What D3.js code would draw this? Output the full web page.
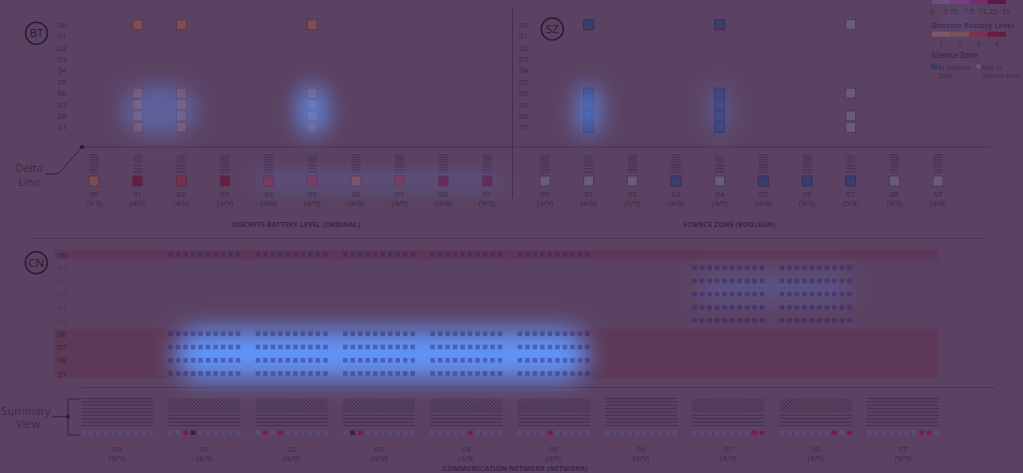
<!DOCTYPE html>
<html>
<head>
<meta charset="utf-8">
<script src="https://cdn.jsdelivr.net/npm/d3@7"></script>
<style>
body { margin: 0; background: #5b4262; overflow: hidden; }
svg { display: block; font-family: 'Open Sans', sans-serif; }
</style>
</head>
<body>
<svg></svg>
<script>
// Data
const bins = ['00','01','02','03','04','05','06','07','08','ST']

// battery level panel (BT)
const btFraction = ['9/9','4/9','4/9','9/9','9/9','4/9','9/9','9/9','9/9','9/9']
const btLevel = [2, 4, 3, 4, 3, 3, 2, 3, 4, 4]
const btChanged = ['01','02','05']
const btGridCols = ['01','02','05']
const btGridRows = ['00','06','07','08','ST']

// science zone panel (SZ)
const szFraction = ['9/9','4/9','9/9','9/9','9/9','4/9','9/9','5/9','9/9','9/9']
const szInZone = [false, false, false, true, false, true, true, true, false, false]
const szChanged = ['01','04','07']
const szGridCols = [
    {col: '01', rows: ['00','06','07','08','ST'], inZone: true},
    {col: '04', rows: ['00','06','07','08','ST'], inZone: true},
    {col: '07', rows: ['00','06','08','ST'], inZone: false}
]

// communication network panel (CN)
const cnFraction = ['9/9','4/9','4/9','4/9','4/9','4/9','9/9','4/9','4/9','9/9']
const cnChanged = ['01','02','03','04','05','07','08']
const cnEarlyCols = ['01','02','03','04','05']
const cnEarlyRows = ['00','06','07','08','ST']
const cnLateCols = ['07','08']
const cnLateRows = ['01','02','03','04','05']
const cnBands = [['00','00'], ['06','ST']]
const cnHigh = [[], [2], [1,3], [2], [5], [4], [], [8,9], [7,9], [7,8]]
const cnLow = [[], [3], [], [1], [], [], [], [], [], []]

// legends
const batteryTicks = [0, 3.75, 7.5, 11.25, 15]
const discreteLevels = [1, 2, 3, 4]

// highlighted regions (col range, row range, strength)
const btGlow = [
    {cols: ['01','02'], rows: ['06','ST'], a: 0.38},
    {cols: ['05','05'], rows: ['06','ST'], a: 0.7}
]
const szGlow = [
    {cols: ['01','01'], rows: ['06','ST'], a: 0.6},
    {cols: ['04','04'], rows: ['06','ST'], a: 0.22}
]
const deltaGlow = {cols: ['04','ST'], a: 0.35}
const cnGlow = [
    {cols: ['01','05'], rows: ['06','ST'], a: 1},
    {cols: ['07','08'], rows: ['02','03'], a: 0.28}
]

// Setup
const width = 1023
const height = 473
const textInk = '#3a2a45'
const svg = d3.select('svg').attr('width', width).attr('height', height)

svg.append('rect').attr('width', width).attr('height', height).attr('fill', '#5b4262')

const defs = svg.append('defs')
const hatch = defs.append('pattern')
    .attr('id', 'hatch')
    .attr('width', 2.6).attr('height', 2.6)
    .attr('patternUnits', 'userSpaceOnUse')
    .attr('patternTransform', 'rotate(45)')
hatch.append('line')
    .attr('x1', 0).attr('y1', 0).attr('x2', 0).attr('y2', 2.6)
    .attr('stroke', '#37263f').attr('stroke-width', 1.2)
const addBlur = (id, sd)=> defs.append('filter').attr('id', id)
    .attr('x', '-150%').attr('y', '-150%').attr('width', '400%').attr('height', '400%')
    .append('feGaussianBlur').attr('stdDeviation', sd)
addBlur('blur', 10)
addBlur('blurWide', 12)

const levelColor = d3.scaleOrdinal().domain(discreteLevels)
    .range(['#7a5868', '#7e4c56', '#7c3050', '#661d43'])
const batteryX = d3.scaleLinear().domain([0, 15]).range([932, 1006])
const batterySwatch = ['#6e5080', '#7a3c8a', '#7c2a6e', '#5c1a48']

const btX = d3.scalePoint().domain(bins).range([94, 487])
const szX = d3.scalePoint().domain(bins).range([545, 938])
const gridY = d3.scalePoint().domain(bins).range([24.7, 127.3])
const cnX = d3.scalePoint().domain(bins).range([117, 903])
const cnY = d3.scalePoint().domain(bins).range([254.5, 373.5])
const slot = d3.scaleBand().domain(d3.range(10)).range([-36, 36]).paddingInner(0.4).paddingOuter(0)

// helpers
const circleBadge = (cx, cy, label)=>{
    svg.append('circle').attr('cx', cx).attr('cy', cy).attr('r', 11)
        .attr('fill', 'none').attr('stroke', '#2a1b31').attr('stroke-width', 1.5)
    svg.append('text').attr('x', cx).attr('y', cy + 4).attr('text-anchor', 'middle')
        .attr('font-size', 11.5).attr('fill', '#2a1b31').text(label)
}

const rowAxis = (scale, x, colorFn)=>{
    const g = svg.append('g')
        .attr('transform', `translate(${x},0)`)
        .call(d3.axisLeft(scale).tickSize(0).tickPadding(0))
    g.select('.domain').remove()
    g.selectAll('text').attr('font-size', 7.8).attr('font-family', 'Open Sans')
        .attr('fill', colorFn || textInk)
}

const glyph = (g, cx, y0, y1, w, changed, nLines, nSplit)=>{
    const lines = []
    let top = y0
    if (changed) {
        const hEnd = y0 + (y1 - y0) * 0.52
        g.append('rect').attr('x', cx - w / 2).attr('y', y0).attr('width', w).attr('height', hEnd - y0)
            .attr('fill', 'url(#hatch)')
        top = hEnd + (y1 - y0) * 0.1
        nLines = nSplit
    }
    for (let i = 0; i < nLines; i++) lines.push(top + (y1 - top) * i / (nLines - 1))
    g.selectAll(null).data(lines).enter().append('line')
        .attr('x1', cx - w / 2).attr('x2', cx + w / 2)
        .attr('y1', d => d).attr('y2', d => d)
        .attr('stroke', '#3e2b48').attr('stroke-width', 0.75)
}

const colLabels = (xScale, fractions, y)=>{
    const g = svg.append('g')
    g.selectAll(null).data(bins).enter().append('text')
        .attr('x', d => xScale(d)).attr('y', y)
        .attr('text-anchor', 'middle').attr('font-size', 7.8).attr('fill', textInk)
        .text(d => d)
    g.selectAll(null).data(bins).enter().append('text')
        .attr('x', d => xScale(d)).attr('y', y + 9.3)
        .attr('text-anchor', 'middle').attr('font-size', 7.8).attr('fill', textInk)
        .text((d, i) => `(${fractions[i]})`)
}

const axisTitle = (x, y, label, len)=>{
    svg.append('text').attr('x', x).attr('y', y).attr('text-anchor', 'middle')
        .attr('font-size', 7).attr('font-weight', 'bold').attr('fill', '#382745')
        .attr('textLength', len).attr('lengthAdjust', 'spacing')
        .text(label)
}

const glowRect = (layer, x0, x1, y0, y1, a, filter)=>{
    layer.append('rect')
        .attr('x', x0).attr('y', y0).attr('width', x1 - x0).attr('height', y1 - y0)
        .attr('rx', Math.min(x1 - x0, y1 - y0) / 2)
        .attr('fill', '#6094f8').attr('opacity', a)
        .attr('filter', `url(#${filter || 'blur'})`)
}

// separators
const rule = (x1, y1, x2, y2, c, w)=> svg.append('line')
    .attr('x1', x1).attr('y1', y1).attr('x2', x2).attr('y2', y2)
    .attr('stroke', c).attr('stroke-width', w)

rule(82, 147, 990, 147, '#46304f', 1.2)
rule(512.5, 8, 512.5, 198, '#46304f', 1)
rule(34, 238.5, 987, 238.5, '#4b3555', 1)
rule(82, 387.5, 995, 387.5, '#4b3555', 1)

// BT panel
circleBadge(36.5, 33.3, 'BT')
rowAxis(gridY, 66.5)

svg.append('g').selectAll('rect')
    .data(d3.cross(btGridCols, btGridRows))
    .enter().append('rect')
    .attr('x', d => btX(d[0]) - 5).attr('y', d => gridY(d[1]) - 5)
    .attr('width', 10).attr('height', 10)
    .attr('fill', levelColor(2)).attr('stroke', '#5c3548').attr('stroke-width', 1)

const btGlyphs = svg.append('g')
bins.forEach(b => glyph(btGlyphs, btX(b), 155, 172, 9, btChanged.includes(b), 8, 3))

svg.append('g').selectAll('rect')
    .data(bins).enter().append('rect')
    .attr('x', d => btX(d) - 5).attr('y', 176)
    .attr('width', 10).attr('height', 10)
    .attr('fill', (d, i) => levelColor(btLevel[i]))
    .attr('stroke', '#54324a').attr('stroke-width', 1)

colLabels(btX, btFraction, 196.5)
axisTitle(296, 226.5, 'DISCRETE BATTERY LEVEL (ORDINAL)', 128)

// delta line annotation
svg.append('path').attr('d', 'M82,147 L58,174 L45,174')
    .attr('fill', 'none').attr('stroke', '#2e2036').attr('stroke-width', 0.9)
svg.append('circle').attr('cx', 82).attr('cy', 147).attr('r', 2).attr('fill', '#2a1b31')
svg.append('text').attr('x', 29).attr('y', 172).attr('text-anchor', 'middle')
    .attr('font-size', 11).attr('fill', '#3c2c47').text('Delta')
svg.append('text').attr('x', 29).attr('y', 186).attr('text-anchor', 'middle')
    .attr('font-size', 11).attr('fill', '#3c2c47').text('Line')

// SZ panel
circleBadge(552.3, 29, 'SZ')
rowAxis(gridY, 528)

const inZoneFill = '#3c3c6e'
const outZoneFill = '#6a5a7e'
const szCells = szGridCols.flatMap(c => c.rows.map(r => ({col: c.col, row: r, inZone: c.inZone})))
svg.append('g').selectAll('rect')
    .data(szCells).enter().append('rect')
    .attr('x', d => szX(d.col) - 5).attr('y', d => gridY(d.row) - 5)
    .attr('width', 10).attr('height', 10)
    .attr('fill', d => d.inZone ? inZoneFill : outZoneFill)
    .attr('stroke', d => d.inZone ? '#33305a' : '#4a3a58').attr('stroke-width', 1)

const szGlyphs = svg.append('g')
bins.forEach(b => glyph(szGlyphs, szX(b), 155, 172, 9, szChanged.includes(b), 8, 3))

svg.append('g').selectAll('rect')
    .data(bins).enter().append('rect')
    .attr('x', d => szX(d) - 5).attr('y', 176)
    .attr('width', 10).attr('height', 10)
    .attr('fill', (d, i) => szInZone[i] ? inZoneFill : outZoneFill)
    .attr('stroke', (d, i) => szInZone[i] ? '#33305a' : '#4a3a58').attr('stroke-width', 1)

colLabels(szX, szFraction, 196.5)
axisTitle(729, 226.5, 'SCIENCE ZONE (BOOLEAN)', 92)

// legend
const lg = svg.append('g')
const tickStep = batteryTicks[1] - batteryTicks[0]
lg.selectAll('rect.cont')
    .data(batteryTicks.slice(0, -1)).enter().append('rect')
    .attr('x', d => batteryX(d)).attr('y', -2)
    .attr('width', d => batteryX(d + tickStep) - batteryX(d)).attr('height', 6)
    .attr('fill', (d, i) => batterySwatch[i])
lg.selectAll('text.cont')
    .data(batteryTicks).enter().append('text')
    .attr('x', d => batteryX(d)).attr('y', 13.5)
    .attr('text-anchor', 'middle').attr('font-size', 7.5).attr('fill', textInk)
    .text(d => d)
lg.append('text').attr('x', 931).attr('y', 28).attr('font-size', 7.8).attr('font-weight', 'bold')
    .attr('textLength', 83).attr('lengthAdjust', 'spacingAndGlyphs')
    .attr('fill', '#3f2d50').text('Discrete Battery Level')
const discreteX = d3.scaleBand().domain(discreteLevels).range([932, 1006])
lg.selectAll('rect.disc')
    .data(discreteLevels).enter().append('rect')
    .attr('x', d => discreteX(d)).attr('y', 31.7)
    .attr('width', discreteX.bandwidth()).attr('height', 5)
    .attr('fill', d => levelColor(d))
lg.selectAll('text.disc')
    .data(discreteLevels).enter().append('text')
    .attr('x', d => discreteX(d) + discreteX.bandwidth() / 2).attr('y', 46)
    .attr('text-anchor', 'middle').attr('font-size', 7.5).attr('fill', textInk)
    .text(d => d)
lg.append('text').attr('x', 931).attr('y', 58).attr('font-size', 8.5).attr('font-weight', 'bold')
    .attr('textLength', 47).attr('lengthAdjust', 'spacingAndGlyphs')
    .attr('fill', '#3f2d50').text('Science Zone')
lg.append('rect').attr('x', 931.5).attr('y', 64).attr('width', 5).attr('height', 5)
    .attr('fill', inZoneFill).attr('stroke', '#33305a').attr('stroke-width', 0.6)
lg.append('rect').attr('x', 976).attr('y', 64).attr('width', 5).attr('height', 5)
    .attr('fill', outZoneFill).attr('stroke', '#4a3a58').attr('stroke-width', 0.6)
const legendText = [['In Science', 938, 69.5, 32], ['Zone', 938, 77.5, 15],
    ['Not In', 982, 69.5, 20], ['Science Zone', 982, 77.5, 38]]
lg.selectAll('text.sz')
    .data(legendText).enter().append('text')
    .attr('x', d => d[1]).attr('y', d => d[2])
    .attr('font-size', 6.4).attr('fill', textInk)
    .attr('textLength', d => d[3]).attr('lengthAdjust', 'spacingAndGlyphs')
    .text(d => d[0])

// CN panel
circleBadge(36.3, 262.7, 'CN')
svg.append('g').selectAll('rect')
    .data(cnBands).enter().append('rect')
    .attr('x', 55).attr('width', 938 - 55)
    .attr('y', d => cnY(d[0]) - 4.8)
    .attr('height', d => cnY(d[1]) - cnY(d[0]) + 9.6)
    .attr('fill', '#5e3957')
rowAxis(cnY, 66.5, d => cnEarlyRows.includes(d) ? '#2f2137' : '#4a3855')

// glow under the network cells, cells drawn translucent over it
const cnGlowLayer = svg.append('g')
cnGlow.forEach(h => glowRect(cnGlowLayer, cnX(h.cols[0]) - 30, cnX(h.cols[1]) + 34,
    cnY(h.rows[0]) - 4, cnY(h.rows[1]) + 6, h.a, 'blurWide'))

const cnCells = d3.cross(cnEarlyCols, cnEarlyRows).concat(d3.cross(cnLateCols, cnLateRows))
svg.append('g').selectAll('rect')
    .data(cnCells.flatMap(c => d3.range(10).map(k => [c[0], c[1], k])))
    .enter().append('rect')
    .attr('x', d => cnX(d[0]) + slot(d[2])).attr('y', d => cnY(d[1]) - 2.25)
    .attr('width', slot.bandwidth()).attr('height', slot.bandwidth())
    .attr('fill', '#2a2070').attr('opacity', 0.42)

// summary view
const sumGlyphs = svg.append('g')
bins.forEach(b => glyph(sumGlyphs, cnX(b), 398.5, 425.5, 72, cnChanged.includes(b), 9, 4))

svg.append('g').selectAll('rect')
    .data(bins.flatMap((b, i) => d3.range(10).map(k => ({b, k,
        state: cnHigh[i].includes(k) ? 'high' : cnLow[i].includes(k) ? 'low' : 'base'}))))
    .enter().append('rect')
    .attr('x', d => cnX(d.b) + slot(d.k)).attr('y', 430.5)
    .attr('width', slot.bandwidth()).attr('height', slot.bandwidth())
    .attr('fill', d => d.state === 'high' ? '#781c4c' : d.state === 'low' ? '#3f1d3a' : '#5c4c79')

colLabels(cnX, cnFraction, 451.5)
axisTitle(515, 470.5, 'COMMUNICATION NETWORK (NETWORK)', 145)

// summary view annotation
svg.append('path').attr('d', 'M80,399 L68,399 L68,435 L80,435 M68,416.7 L52,416.7')
    .attr('fill', 'none').attr('stroke', '#2e2036').attr('stroke-width', 0.9)
svg.append('circle').attr('cx', 68).attr('cy', 416.7).attr('r', 1.8).attr('fill', '#2a1b31')
svg.append('text').attr('x', 26).attr('y', 414.5).attr('text-anchor', 'middle')
    .attr('font-size', 11).attr('fill', '#3c2c47').text('Summary')
svg.append('text').attr('x', 28).attr('y', 428).attr('text-anchor', 'middle')
    .attr('font-size', 11).attr('fill', '#3c2c47').text('View')

// highlights over the upper panels
const glow = svg.append('g')
btGlow.forEach(h => glowRect(glow, btX(h.cols[0]) - 16, btX(h.cols[1]) + 16,
    gridY(h.rows[0]) - 8, gridY(h.rows[1]) + 8, h.a))
szGlow.forEach(h => glowRect(glow, szX(h.cols[0]) - 14, szX(h.cols[1]) + 14,
    gridY(h.rows[0]) - 8, gridY(h.rows[1]) + 8, h.a))
glowRect(glow, btX(deltaGlow.cols[0]) - 12, btX(deltaGlow.cols[1]) + 12, 176, 186, deltaGlow.a)
glowRect(glow, 945, 975, 12, 30, 0.12)
</script>
</body>
</html>
